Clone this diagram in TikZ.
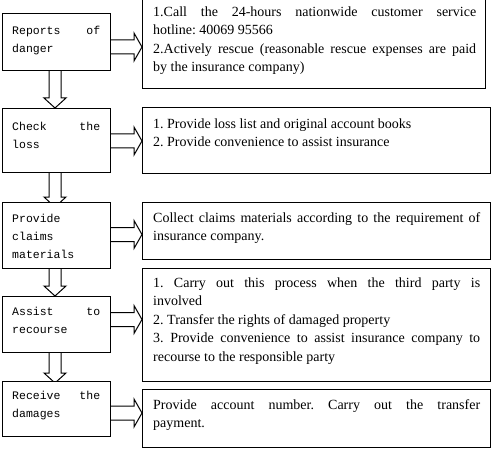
\documentclass[tikz,border=0pt]{standalone}
\usepackage{fontspec}
\setmainfont{Liberation Serif}
\newfontfamily\lmono{Liberation Mono}
\usetikzlibrary{calc}
\frenchspacing
\newcommand\J[1]{{\spaceskip=0pt\xspaceskip=0pt\makebox[\hsize][s]{#1}}}
% right block arrow: from left node #1 to right node #2 at height #3
\newcommand\rarr[3]{%
  \draw[blk] (#1.east |- 0,#3) ++(0,-7) -- ++(24,0) -- ++(0,-7)
    -- (#2.west |- 0,#3) -- ++(-8,14) -- ++(0,-7) -- ++(-24,0);}
% down block arrow: from node #1 to node #2, tip offset #3
\newcommand\darr[3]{%
  \draw[blk] (#1.south -| 49,0) -- ($(#2.north -| 49,0)+(0,#3-10)$) -- ++(-5,0)
    -- ($(#2.north -| 55,0)+(0,#3)$) -- ++(11,-10) -- ++(-5,0) -- (#1.south -| 61,0);}
\begin{document}
\frenchspacing
\begin{tikzpicture}[x=1pt,y=-1pt,
  box/.style={draw, line width=1pt, fill=white, anchor=north west, inner sep=0pt, outer sep=0pt},
  ltext/.style={anchor=north west, inner sep=0pt, text width=88pt, align=justify,
    font=\lmono\fontsize{11.5}{18}\selectfont},
  rtext/.style={anchor=north west, inner sep=0pt, align=justify,
    font=\fontsize{14}{18.5}\selectfont\frenchspacing},
  blk/.style={draw, line width=1pt, line join=miter}]
\useasboundingbox (0,0) rectangle (500,449);
% left boxes
\node[box, minimum width=108pt, minimum height=57pt] (l1) at (2,14) {};
\node[box, minimum width=108pt, minimum height=64pt] (l2) at (2,109) {};
\node[box, minimum width=108pt, minimum height=66pt] (l3) at (2,202) {};
\node[box, minimum width=108pt, minimum height=56pt] (l4) at (2,296) {};
\node[box, minimum width=108pt, minimum height=55pt] (l5) at (2,381) {};
% right boxes
\node[box, minimum width=343pt, minimum height=90pt] (r1) at (142,-1) {};
\node[box, minimum width=348pt, minimum height=66pt] (r2) at (142,108) {};
\node[box, minimum width=348pt, minimum height=57pt] (r3) at (142,202) {};
\node[box, minimum width=348pt, minimum height=113pt] (r4) at (142,268) {};
\node[box, minimum width=348pt, minimum height=58pt] (r5) at (142,389) {};
% down arrows
\darr{l1}{l2}{-1}
\darr{l2}{l3}{5}
\darr{l3}{l4}{0}
\darr{l4}{l5}{2}
% hide the arrow tips that run under the box tops
\fill[white] ($(l3.north west)+(1,0.5)$) rectangle ($(l3.north east)+(-1,8)$);
\fill[white] ($(l5.north west)+(1,0.5)$) rectangle ($(l5.north east)+(-1,8)$);
\draw[line width=1pt] (l3.north west) -- (l3.north east);
\draw[line width=1pt] (l5.north west) -- (l5.north east);
% right arrows
\rarr{l1}{r1}{47}
\rarr{l2}{r2}{141}
\rarr{l3}{r3}{234.5}
\rarr{l4}{r4}{319.5}
\rarr{l5}{r5}{413}
% left texts
\node[ltext] (t1) at (12,21.4) {\strut\J{Reports of}\\danger};
\node[ltext] (t2) at (12,117.4) {\strut\J{Check the}\\loss};
\node[ltext] (t3) at (12,209.4) {\strut Provide\\claims\\materials};
\node[ltext] (t4) at (12,302.4) {\strut\J{Assist to}\\recourse};
\node[ltext] (t5) at (12,386.4) {\strut\J{Receive the}\\damages};
% right texts
\node[rtext, text width=323pt] (s1) at (153,3.05) {\strut\J{1.Call the 24-hours nationwide customer service}\\hotline: 40069 95566\\\J{2.Actively rescue (reasonable rescue expenses are paid}\\by the insurance company)};
\node[rtext, text width=327pt] (s2) at (153,115.05) {\strut 1. Provide loss list and original account books\\2. Provide convenience to assist insurance};
\node[rtext, text width=327pt] (s3) at (153,209.05) {\strut\J{Collect claims materials according to the requirement of}\\insurance company.};
\node[rtext, text width=327pt] (s4) at (153,274.05) {\strut\J{1. Carry out this process when the third party is}\\involved\\2. Transfer the rights of damaged property\\\J{3. Provide convenience to assist insurance company to}\\recourse to the responsible party};
\node[rtext, text width=327pt] (s5) at (153,396.05) {\strut\J{Provide account number. Carry out the transfer}\\payment.};
\end{tikzpicture}
\end{document}
